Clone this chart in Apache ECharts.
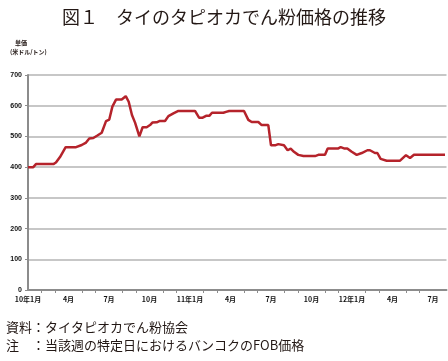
<!DOCTYPE html>
<html><head><meta charset="utf-8">
<script src="https://cdn.jsdelivr.net/npm/echarts@6/dist/echarts.min.js"></script>
<style>html,body{margin:0;padding:0;background:#fff;}#c{width:448px;height:361px;}</style>
</head><body><div id="c"></div>
<script>
// x positions in months since Jan 2010 (0 = 10年1月)
const months = [0,0.39,0.59,1.88,2.07,2.37,2.79,3.56,3.98,4.30,4.54,4.84,5.14,5.46,5.78,6.02,6.25,6.52,6.94,7.24,7.46,7.70,7.93,8.25,8.49,8.79,9.04,9.21,9.53,9.73,10.15,10.40,10.77,11.14,12.37,12.67,12.94,13.19,13.43,13.63,14.47,14.67,14.9,16.0,16.32,16.57,17.06,17.31,17.80,18.0,18.30,18.54,18.96,19.23,19.46,19.70,20.02,20.40,21.26,21.51,22.0,22.2,22.99,23.16,23.41,23.65,23.98,24.35,24.72,25.14,25.33,25.70,25.88,26.12,26.57,27.56,28.0,28.3,28.59,30.89];
const prices = [400,400,410,410,415,433,465,465,472,480,493,495,503,512,550,555,597,620,620,631,613,570,545,500,530,530,537,545,546,550,550,566,575,583,583,561,561,567,567,577,577,580,583,583,554,547,547,537,537,471,471,475,471,455,460,450,440,436,436,440,440,461,461,465,461,461,450,440,446,455,455,446,446,427,421,421,439,430,440,440];
const xTickLabels = ["10年1月","4月","7月","10月","11年1月","4月","7月","10月","12年1月","4月","7月"];
const yTicks = [0,100,200,300,400,500,600,700];

const chart = echarts.init(document.getElementById('c'), null, {renderer:'canvas'});
const cjk = '"Noto Sans CJK JP","Noto Sans",sans-serif';
chart.setOption({
  animation:false,
  backgroundColor:'#fff',
  graphic:[
    {type:'text', left:'center', top:8, style:{text:'図１　タイのタピオカでん粉価格の推移', font:'18px '+cjk, fill:'#231815'}},
    {type:'text', left:15, top:40, style:{text:'単価', font:'bold 6px '+cjk, fill:'#231815'}},
    {type:'text', left:10, top:49, style:{text:'(米ドル/トン)', font:'bold 6px '+cjk, fill:'#231815'}},
    {type:'text', left:6, top:321, style:{text:'資料：タイタピオカでん粉協会', font:'13px '+cjk, fill:'#231815'}},
    {type:'text', left:6, top:339, style:{text:'注　：当該週の特定日におけるバンコクのFOB価格', font:'13px '+cjk, fill:'#231815'}}
  ],
  grid:{left:28, right:1.5, top:75, bottom:71, containLabel:false},
  xAxis:{
    type:'value', min:0, max:31, interval:3,
    axisLine:{show:true, lineStyle:{color:'#8c8c8c', width:2}},
    axisTick:{show:false},
    minorTick:{show:true, splitNumber:3, length:3, lineStyle:{color:'#8c8c8c', width:1}},
    splitLine:{show:false},
    axisLabel:{
      margin:6, fontSize:7, fontWeight:'bold', color:'#111', fontFamily:cjk,
      showMaxLabel:false,
      formatter:function(v){ const i=Math.round(v/3); return (Math.abs(v-i*3)<1e-6 && i<xTickLabels.length)?xTickLabels[i]:''; }
    }
  },
  yAxis:{
    type:'value', min:yTicks[0], max:yTicks[yTicks.length-1], interval:100,
    axisLine:{show:true, lineStyle:{color:'#8c8c8c', width:2}},
    axisTick:{show:true, length:3, lineStyle:{color:'#8c8c8c'}},
    splitLine:{show:true, lineStyle:{color:'#b4b4b4', width:1.5}},
    axisLabel:{margin:6, fontSize:7, fontWeight:'bold', color:'#111', fontFamily:'"Liberation Sans Narrow","Liberation Sans",sans-serif'}
  },
  series:[{
    type:'line', data:months.map((m,i)=>[m,prices[i]]),
    showSymbol:false, symbol:'none',
    lineStyle:{color:'#b5232b', width:2.5},
    z:5
  }]
});
</script></body></html>
